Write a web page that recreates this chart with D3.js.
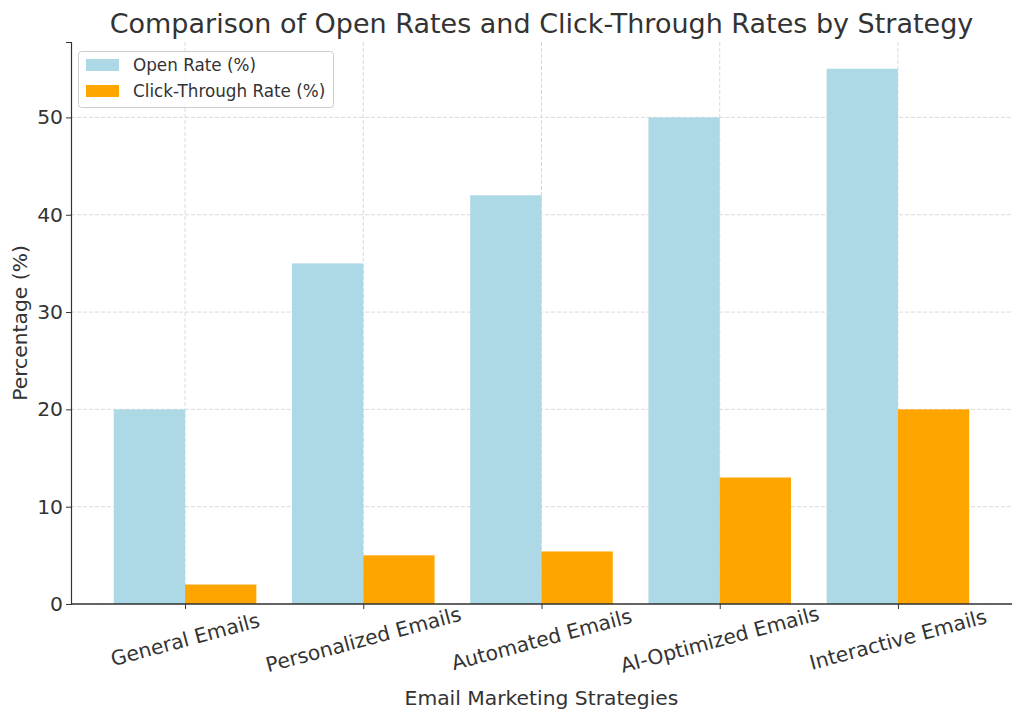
<!DOCTYPE html>
<html><head><meta charset="utf-8">
<script src="https://cdn.jsdelivr.net/npm/d3@7"></script>
<style>body{margin:0;background:#fff}svg text{font-family:"DejaVu Sans",sans-serif;fill:#333}</style>
</head><body>
<svg id="c" width="1024" height="721"></svg>
<script>
const categories = ["General Emails","Personalized Emails","Automated Emails","AI-Optimized Emails","Interactive Emails"];
const openRate = [20,35,42,50,55];
const ctr = [2,5,5.4,13,20];
const yTicks = [0,10,20,30,40,50];
const seriesNames = ["Open Rate (%)","Click-Through Rate (%)"];
const colors = ["#ADD8E6","#FFA500"];

const svg = d3.select("#c");
const L=71,R=1012,T=42,B=604;
const x = d3.scaleLinear().domain([-0.64,4.64]).range([L,R]);
const y = d3.scaleLinear().domain([0,57.75]).range([B,T]);
const w = 0.4;

// grid
const g = svg.append("g");
g.selectAll(".gx").data(categories).join("line")
 .attr("x1",(d,i)=>x(i)).attr("x2",(d,i)=>x(i)).attr("y1",T).attr("y2",B)
 .attr("stroke","#d0d0d0").attr("stroke-dasharray","4,2").attr("stroke-width",0.8);
g.selectAll(".gy").data(yTicks).join("line")
 .attr("x1",L).attr("x2",R).attr("y1",d=>y(d)).attr("y2",d=>y(d))
 .attr("stroke","#d0d0d0").attr("stroke-dasharray","4,2").attr("stroke-width",0.8);

// bars
svg.append("g").selectAll("rect").data(openRate).join("rect")
 .attr("x",(d,i)=>x(i-w)).attr("width",x(w)-x(0)).attr("y",d=>y(d)).attr("height",d=>y(0)-y(d))
 .attr("fill",colors[0]);
svg.append("g").selectAll("rect").data(ctr).join("rect")
 .attr("x",(d,i)=>x(i)).attr("width",x(w)-x(0)).attr("y",d=>y(d)).attr("height",d=>y(0)-y(d))
 .attr("fill",colors[1]);

// axes
const ya = svg.append("g").attr("transform",`translate(${L},0)`)
 .call(d3.axisLeft(y).tickValues(yTicks).tickSize(5).tickPadding(3));
ya.select(".domain").attr("stroke","#333").attr("stroke-width",1.2);
ya.selectAll(".tick line").attr("stroke","#333");
ya.selectAll(".tick text").attr("font-size",20.3).style("fill","#333").attr("font-family","DejaVu Sans");

const xa = svg.append("g").attr("transform",`translate(0,${B})`)
 .call(d3.axisBottom(x).tickValues(d3.range(categories.length)).tickFormat(i=>categories[i]).tickSize(5).tickPadding(0));
xa.select(".domain").attr("stroke","#333").attr("stroke-width",1.6).attr("d",`M${L},0H${R}`);
xa.selectAll(".tick line").attr("stroke","#333");
xa.selectAll(".tick text").attr("font-size",20.3).style("fill","#333").attr("font-family","DejaVu Sans")
 .attr("text-anchor","middle").attr("dy",0).attr("y",0)
 .attr("transform","translate(0,37) rotate(-15)").attr("dominant-baseline","middle");

// titles
svg.append("text").attr("x",(L+R)/2).attr("y",33).attr("text-anchor","middle").attr("font-size",27).text("Comparison of Open Rates and Click-Through Rates by Strategy");
svg.append("text").attr("x",(L+R)/2).attr("y",705).attr("text-anchor","middle").attr("font-size",20.3).text("Email Marketing Strategies");
svg.append("text").attr("transform",`translate(27,${(T+B)/2}) rotate(-90)`).attr("text-anchor","middle").attr("font-size",20.3).text("Percentage (%)");

// legend
const lg = svg.append("g");
lg.append("rect").attr("x",78.5).attr("y",51.5).attr("width",255).attr("height",56).attr("rx",3)
 .attr("fill","#fff").attr("fill-opacity",0.8).attr("stroke","#ccc");
seriesNames.forEach((n,i)=>{
  lg.append("rect").attr("x",86).attr("y",59+i*26).attr("width",33).attr("height",12).attr("fill",colors[i]);
  lg.append("text").attr("x",133).attr("y",66+i*26).attr("dominant-baseline","middle").attr("font-size",16.8).text(n);
});
</script>
</body></html>
